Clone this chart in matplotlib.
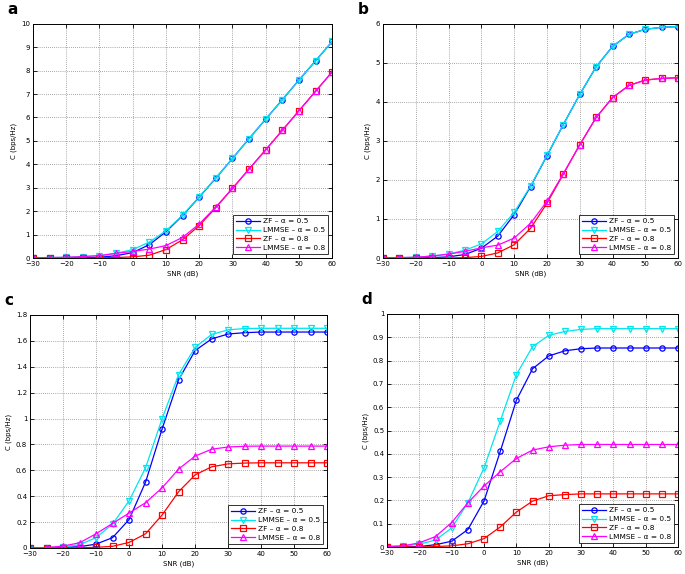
import matplotlib
matplotlib.use("Agg")
import matplotlib.pyplot as plt
import numpy as np

snr = [-30, -25, -20, -15, -10, -5, 0, 5, 10, 15, 20, 25, 30, 35, 40, 45, 50, 55, 60]

labels = ["ZF \u2013 \u03b1 = 0.5", "LMMSE \u2013 \u03b1 = 0.5", "ZF \u2013 \u03b1 = 0.8", "LMMSE \u2013 \u03b1 = 0.8"]

# Panel a
a_zf05 = [0, 0, 0, 0.01, 0.03, 0.1, 0.23, 0.57, 1.12, 1.81, 2.6, 3.41, 4.25, 5.1, 5.93, 6.76, 7.6, 8.42, 9.25]
a_lm05 = [0.01, 0.02, 0.03, 0.06, 0.1, 0.2, 0.36, 0.68, 1.16, 1.83, 2.61, 3.42, 4.25, 5.1, 5.93, 6.76, 7.6, 8.42, 9.25]
a_zf08 = [0, 0, 0, 0, 0.01, 0.02, 0.05, 0.12, 0.36, 0.78, 1.38, 2.15, 2.97, 3.8, 4.62, 5.45, 6.29, 7.12, 7.95]
a_lm08 = [0.01, 0.02, 0.03, 0.06, 0.1, 0.2, 0.28, 0.38, 0.53, 0.88, 1.45, 2.18, 2.97, 3.8, 4.62, 5.45, 6.29, 7.12, 7.95]

# Panel b
b_zf05 = [0, 0, 0, 0.01, 0.03, 0.09, 0.25, 0.56, 1.11, 1.83, 2.62, 3.42, 4.19, 4.9, 5.42, 5.73, 5.86, 5.91, 5.93]
b_lm05 = [0.01, 0.01, 0.02, 0.05, 0.1, 0.2, 0.36, 0.68, 1.17, 1.84, 2.63, 3.42, 4.19, 4.9, 5.42, 5.73, 5.86, 5.91, 5.93]
b_zf08 = [0, 0, 0, 0, 0.0, 0.01, 0.04, 0.13, 0.34, 0.76, 1.4, 2.15, 2.9, 3.6, 4.11, 4.42, 4.56, 4.6, 4.62]
b_lm08 = [0.01, 0.01, 0.02, 0.05, 0.1, 0.17, 0.26, 0.33, 0.51, 0.89, 1.45, 2.16, 2.9, 3.6, 4.11, 4.42, 4.56, 4.6, 4.62]

# Panel c
c_zf05 = [0, 0, 0.005, 0.01, 0.03, 0.08, 0.22, 0.51, 0.92, 1.3, 1.525, 1.615, 1.653, 1.663, 1.668, 1.668, 1.668, 1.668, 1.668]
c_lm05 = [0, 0.002, 0.01, 0.025, 0.08, 0.185, 0.365, 0.62, 1.0, 1.34, 1.55, 1.65, 1.685, 1.695, 1.697, 1.697, 1.697, 1.697, 1.697]
c_zf08 = [0, 0, 0, 0.002, 0.005, 0.013, 0.043, 0.11, 0.255, 0.435, 0.565, 0.627, 0.65, 0.656, 0.658, 0.658, 0.658, 0.658, 0.658]
c_lm08 = [0, 0.003, 0.015, 0.04, 0.11, 0.19, 0.27, 0.35, 0.465, 0.61, 0.71, 0.763, 0.78, 0.786, 0.787, 0.787, 0.787, 0.787, 0.787]

# Panel d
d_zf05 = [0, 0, 0.002, 0.01, 0.025, 0.075, 0.198, 0.41, 0.63, 0.765, 0.82, 0.842, 0.851, 0.854, 0.854, 0.854, 0.854, 0.854, 0.854]
d_lm05 = [0.002, 0.005, 0.012, 0.03, 0.082, 0.19, 0.34, 0.54, 0.74, 0.86, 0.908, 0.925, 0.934, 0.937, 0.937, 0.937, 0.937, 0.937, 0.937]
d_zf08 = [0, 0, 0, 0.002, 0.005, 0.014, 0.036, 0.086, 0.15, 0.197, 0.22, 0.225, 0.228, 0.228, 0.228, 0.228, 0.228, 0.228, 0.228]
d_lm08 = [0.002, 0.005, 0.018, 0.045, 0.105, 0.19, 0.262, 0.323, 0.38, 0.416, 0.43, 0.437, 0.44, 0.44, 0.44, 0.44, 0.44, 0.44, 0.44]

panels = [
    ("a", [a_zf05, a_lm05, a_zf08, a_lm08], 10, np.arange(0, 11, 1), [0.048, 0.5505, 0.437, 0.408]),
    ("b", [b_zf05, b_lm05, b_zf08, b_lm08], 6, np.arange(0, 7, 1), [0.559, 0.5505, 0.431, 0.408]),
    ("c", [c_zf05, c_lm05, c_zf08, c_lm08], 1.8, np.round(np.arange(0, 1.81, 0.2), 1), [0.0438, 0.0453, 0.434, 0.406]),
    ("d", [d_zf05, d_lm05, d_zf08, d_lm08], 1.0, np.round(np.arange(0, 1.01, 0.1), 1), [0.565, 0.047, 0.425, 0.406]),
]

colors = ["#0000ff", "#00e5ee", "#ff0000", "#ff00ff"]
markers = ["o", "v", "s", "^"]

fig = plt.figure(figsize=(6.85, 5.74), dpi=100)

def fmt(v):
    s = ("%g" % v)
    return s.replace("-", "\u2212")

for name, series, ymax, yticks, pos in panels:
    ax = fig.add_axes(pos)
    for ys, c, m, lab in zip(series, colors, markers, labels):
        ax.plot(snr, ys, color=c, marker=m, markersize=3.8, markerfacecolor="none",
                markeredgewidth=0.9, linewidth=0.9, label=lab)
    ax.set_xlim(-30, 60)
    ax.set_ylim(0, ymax)
    ax.set_xticks(range(-30, 61, 10))
    ax.set_xticklabels([fmt(v) for v in range(-30, 61, 10)])
    ax.set_yticks(yticks)
    ax.set_yticklabels([fmt(v) for v in yticks])
    ax.grid(True, linestyle=(0, (1, 2)), color="0.35", linewidth=0.5)
    ax.tick_params(direction="in", length=3, width=0.6, labelsize=5, pad=2,
                   top=True, right=True)
    for sp in ax.spines.values():
        sp.set_linewidth(0.7)
    ax.set_xlabel("SNR (dB)", fontsize=5, labelpad=3)
    ax.set_ylabel("C (bps/Hz)", fontsize=5, labelpad=3)
    leg = ax.legend(loc="lower right", fontsize=5.3, frameon=True, fancybox=False,
                    edgecolor="black", handlelength=3.2, borderaxespad=0.6,
                    labelspacing=0.35, handletextpad=0.4, borderpad=0.4)
    leg.get_frame().set_linewidth(0.7)
    fig.text(pos[0] - 0.037, pos[1] + pos[3] + 0.012, name, fontsize=11,
             fontweight="bold", ha="left", va="bottom")

fig.savefig("out.png", dpi=100)
